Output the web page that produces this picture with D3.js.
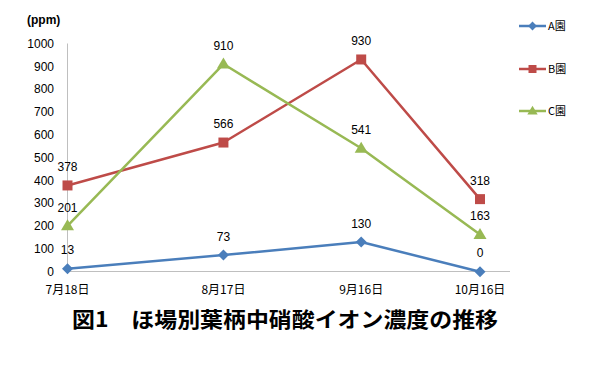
<!DOCTYPE html>
<html><head><meta charset="utf-8">
<script src="https://cdn.jsdelivr.net/npm/d3@7"></script>
<style>
html,body{margin:0;padding:0;background:#fff;}
svg{display:block;}
</style>
</head><body>
<svg id="c" width="598" height="371"></svg>
<script>
const categories = ["7月18日", "8月17日", "9月16日", "10月16日"];
const xPositionFractions = [0, 0.378, 0.712, 1];
const seriesNames = ["A園", "B園", "C園"];
const seriesA = [13, 73, 130, 0];
const seriesB = [378, 566, 930, 318];
const seriesC = [201, 910, 541, 163];
const yTicks = [0, 100, 200, 300, 400, 500, 600, 700, 800, 900, 1000];
const colors = ["#4A7EBB", "#BE4B48", "#98B954"];
const markers = ["diamond", "square", "triangle"];
const titleText = "図1　ほ場別葉柄中硝酸イオン濃度の推移";
const unitText = "(ppm)";

(function () {
const font = "'Liberation Sans', Arial, 'Noto Sans CJK JP', sans-serif";
const svg = d3.select("#c");
const pLeft = 67.5, pRight = 480, pTop = 43.5, pBottom = 271.7;

const xIdx = d3.scaleLinear().domain(d3.range(categories.length))
  .range(xPositionFractions.map(f => pLeft + f * (pRight - pLeft)));
const x = c => xIdx(categories.indexOf(c));
const y = d3.scaleLinear().domain([0, 1000]).range([pBottom, pTop]);

svg.append("line").attr("x1", 67.5).attr("x2", 67.5).attr("y1", pTop).attr("y2", pBottom)
  .attr("stroke", "#BFBFBF").attr("stroke-width", 1);
svg.append("line").attr("x1", 67).attr("x2", 510).attr("y1", 271.5).attr("y2", 271.5)
  .attr("stroke", "#BFBFBF").attr("stroke-width", 1);

svg.append("g").selectAll("text").data(yTicks).join("text")
  .attr("x", 54).attr("y", d => y(d)).attr("dy", "0.35em")
  .attr("text-anchor", "end").attr("font-family", font).attr("font-size", 12).attr("fill", "#000")
  .text(d => d);

svg.append("text").attr("x", 27).attr("y", 24).attr("font-family", font)
  .attr("font-size", 12).attr("font-weight", "bold").text(unitText);

svg.append("g").selectAll("text").data(categories).join("text")
  .attr("x", d => x(d)).attr("y", 290).attr("dy", "0.35em")
  .attr("text-anchor", "middle").attr("font-family", "'Noto Sans CJK JP', sans-serif").attr("font-size", 12).attr("fill", "#000")
  .text(d => d);

const allSeries = [seriesA, seriesB, seriesC];
function markerPath(type) {
  if (type === "diamond") return "M0,-5.5L5.5,0L0,5.5L-5.5,0Z";
  if (type === "square") return "M-5,-5H5V5H-5Z";
  return "M0,-6.5L6.5,4.5L-6.5,4.5Z";
}
const line = d3.line().x((d, i) => xIdx(i)).y(d => y(d));

allSeries.forEach((vals, si) => {
  const g = svg.append("g");
  g.append("path").attr("d", line(vals)).attr("fill", "none")
    .attr("stroke", colors[si]).attr("stroke-width", 2.5).attr("stroke-linejoin", "round");
  g.selectAll("path.m").data(vals).join("path").attr("class", "m")
    .attr("d", markerPath(markers[si]))
    .attr("transform", (d, i) => `translate(${xIdx(i)},${y(d)})`)
    .attr("fill", colors[si]);
  g.selectAll("text").data(vals).join("text")
    .attr("x", (d, i) => xIdx(i)).attr("y", d => y(d) - 18.5).attr("dy", "0.35em")
    .attr("text-anchor", "middle").attr("font-family", font).attr("font-size", 12).attr("fill", "#000")
    .text(d => d);
});

const legY = [26, 69, 111];
seriesNames.forEach((n, si) => {
  const g = svg.append("g").attr("transform", `translate(0,${legY[si]})`);
  g.append("line").attr("x1", 519).attr("x2", 546).attr("y1", 0).attr("y2", 0)
    .attr("stroke", colors[si]).attr("stroke-width", 2.5);
  g.append("path").attr("d", markerPath(markers[si])).attr("transform", `translate(532.5,0) scale(0.8)`)
    .attr("fill", colors[si]);
  g.append("text").attr("x", 548).attr("y", 0).attr("dy", "0.35em")
    .attr("font-family", "'Noto Sans CJK JP', sans-serif").attr("font-size", 11).text(n);
});

svg.append("text").attr("x", 285).attr("y", 327).attr("text-anchor", "middle")
  .attr("font-family", "'Noto Sans CJK JP', sans-serif").attr("font-size", 21).attr("font-weight", "bold")
  .attr("textLength", 426).attr("lengthAdjust", "spacingAndGlyphs")
  .text(titleText);
})();
</script>
</body></html>
